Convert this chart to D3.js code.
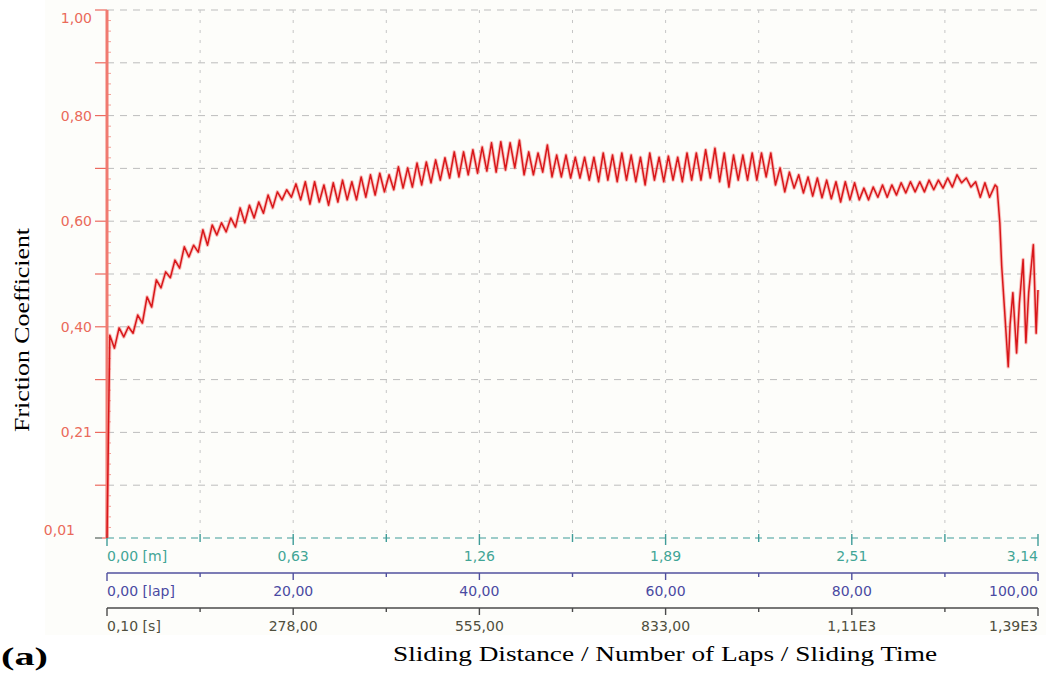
<!DOCTYPE html>
<html>
<head>
<meta charset="utf-8">
<script src="https://cdn.jsdelivr.net/npm/d3@7"></script>
<style>
  html, body { margin: 0; padding: 0; background: #ffffff; }
  svg { display: block; }
</style>
</head>
<body>
<svg id="chart" width="1050" height="680"></svg>
<script>
// Friction coefficient recorded during a pin-on-disc run (100 laps).
// Each lap shows one oscillation: a high and a low value per lap.
const startMu = 0.01;

const lapPeakMu = [
  0.390, 0.404, 0.406, 0.428, 0.462, 0.494, 0.509, 0.531, 0.556, 0.559,
  0.588, 0.597, 0.601, 0.610, 0.629, 0.634, 0.640, 0.653, 0.659, 0.663,
  0.674, 0.678, 0.678, 0.672, 0.676, 0.681, 0.678, 0.687, 0.691, 0.694,
  0.691, 0.706, 0.704, 0.713, 0.715, 0.719, 0.723, 0.734, 0.734, 0.738,
  0.743, 0.751, 0.753, 0.751, 0.756, 0.734, 0.732, 0.747, 0.728, 0.728,
  0.724, 0.724, 0.724, 0.732, 0.728, 0.732, 0.728, 0.724, 0.732, 0.724,
  0.726, 0.724, 0.732, 0.732, 0.738, 0.741, 0.732, 0.728, 0.728, 0.732,
  0.732, 0.732, 0.704, 0.696, 0.691, 0.687, 0.685, 0.681, 0.678, 0.678,
  0.676, 0.666, 0.668, 0.672, 0.672, 0.676, 0.678, 0.678, 0.681, 0.681,
  0.685, 0.691, 0.685, 0.678, 0.676
];

const lapValleyMu = [
  0.366, 0.387, 0.394, 0.413, 0.443, 0.479, 0.498, 0.516, 0.537, 0.546,
  0.559, 0.578, 0.584, 0.593, 0.601, 0.610, 0.619, 0.629, 0.644, 0.649,
  0.644, 0.636, 0.640, 0.634, 0.640, 0.644, 0.644, 0.649, 0.653, 0.659,
  0.663, 0.666, 0.668, 0.672, 0.676, 0.681, 0.685, 0.687, 0.691, 0.694,
  0.698, 0.696, 0.700, 0.704, 0.691, 0.691, 0.696, 0.687, 0.687, 0.685,
  0.685, 0.681, 0.678, 0.681, 0.678, 0.681, 0.678, 0.672, 0.681, 0.678,
  0.681, 0.678, 0.681, 0.681, 0.685, 0.678, 0.668, 0.681, 0.681, 0.681,
  0.687, 0.672, 0.659, 0.666, 0.657, 0.651, 0.648, 0.646, 0.640, 0.644,
  0.644, 0.644, 0.649, 0.649, 0.653, 0.657, 0.659, 0.659, 0.663, 0.666,
  0.668, 0.676, 0.668, 0.649, 0.649
];

// Final laps: coating breaks through, friction collapses and becomes erratic
const tailLap = [95.4, 95.6, 95.9, 96.1, 96.4, 96.8, 97.0, 97.3, 97.7, 98.0, 98.4, 98.7, 99.0, 99.5, 99.8, 100.0];
const tailMu  = [0.672, 0.668, 0.601, 0.520, 0.440, 0.331, 0.410, 0.470, 0.357, 0.450, 0.532, 0.376, 0.470, 0.560, 0.394, 0.475];

// Axis tick values and labels
const muTickValues = [0.01, 0.208, 0.406, 0.604, 0.802, 1.00];
const muTickLabels = ["0,01", "0,21", "0,40", "0,60", "0,80", "1,00"];
const lapTickValues = [0, 20, 40, 60, 80, 100];
const distanceLabels = ["0,00 [m]", "0,63", "1,26", "1,89", "2,51", "3,14"];
const lapLabels = ["0,00 [lap]", "20,00", "40,00", "60,00", "80,00", "100,00"];
const timeLabels = ["0,10 [s]", "278,00", "555,00", "833,00", "1,11E3", "1,39E3"];

const svg = d3.select("#chart");
const font = "'DejaVu Sans', Verdana, sans-serif";
const serif = "'Liberation Serif', 'Times New Roman', serif";

const x = d3.scaleLinear().domain([0, 100]).range([107, 1038]);
const y = d3.scaleLinear().domain([0.01, 1.00]).range([538, 10]);

// panel background
svg.append("rect").attr("x", 45).attr("y", 0).attr("width", 1001).attr("height", 635)
  .attr("fill", "#fdfdfa");

// grid: labelled ticks plus the halfway ticks between them
const muGrid = [];
muTickValues.forEach((v, i) => {
  muGrid.push(v);
  if (i < muTickValues.length - 1) muGrid.push((v + muTickValues[i + 1]) / 2);
});
const lapGrid = d3.range(10, 100, 10);

const grid = svg.append("g");
grid.selectAll("line.h").data(muGrid.filter(v => v > 0.01)).join("line")
  .attr("x1", 107).attr("x2", 1040)
  .attr("y1", d => y(d)).attr("y2", d => y(d))
  .attr("stroke", "#bdbdbd").attr("stroke-width", 1).attr("stroke-dasharray", "7,6");
grid.selectAll("line.v").data(lapGrid).join("line")
  .attr("x1", d => x(d)).attr("x2", d => x(d))
  .attr("y1", y(1.00)).attr("y2", y(0.01))
  .attr("stroke", "#c6c6c6").attr("stroke-width", 1).attr("stroke-dasharray", "3,7");

// ---- y axis (red) ----
const yAxis = svg.append("g");
const minorMu = [];
for (let i = 0; i < muGrid.length - 1; i++) {
  const a = muGrid[i], b = muGrid[i + 1];
  for (let k = 1; k < 5; k++) minorMu.push(a + (b - a) * k / 5);
}
yAxis.selectAll("line.minor").data(minorMu).join("line")
  .attr("x1", 107).attr("x2", 111)
  .attr("y1", d => y(d)).attr("y2", d => y(d))
  .attr("stroke", "#f3a098").attr("stroke-width", 1);
yAxis.selectAll("line.major").data(muGrid).join("line")
  .attr("x1", 95).attr("x2", 107)
  .attr("y1", d => y(d)).attr("y2", d => y(d))
  .attr("stroke", "#ec6a60").attr("stroke-width", 1.2);
yAxis.append("line")
  .attr("x1", 107).attr("x2", 107).attr("y1", y(1.00)).attr("y2", y(0.01))
  .attr("stroke", "#f07a70").attr("stroke-width", 3);
yAxis.selectAll("text").data(muTickValues).join("text")
  .attr("x", (d, i) => i === 0 ? 75 : 92)
  .attr("y", (d, i) => y(d) + (i === 0 ? -8 : i === muTickValues.length - 1 ? 8 : 0))
  .attr("dy", "0.36em")
  .attr("text-anchor", "end")
  .attr("font-family", font).attr("font-size", 14)
  .attr("fill", "#ea6a5a")
  .text((d, i) => muTickLabels[i]);

// ---- stacked bottom axes: distance, laps, time ----
function bottomAxis(lineY, color, labels, labelColor, dashed) {
  const g = svg.append("g");
  g.append("line").attr("x1", dashed ? 95 : 107).attr("x2", 1038)
    .attr("y1", lineY).attr("y2", lineY)
    .attr("stroke", color).attr("stroke-width", dashed ? 1.2 : 1.6)
    .attr("stroke-dasharray", dashed ? "7,5" : null);
  const ticks = d3.range(0, 101, 10);
  g.selectAll("line.t").data(ticks).join("line")
    .attr("x1", d => x(d)).attr("x2", d => x(d))
    .attr("y1", d => dashed ? lineY - 4 : lineY)
    .attr("y2", d => lineY + (d === 0 || d === 100 ? 8 : d % 20 === 0 ? 7 : 4))
    .attr("stroke", color).attr("stroke-width", 1.4);
  g.selectAll("text").data(lapTickValues).join("text")
    .attr("x", d => x(d))
    .attr("y", lineY + 18)
    .attr("dy", "0.36em")
    .attr("text-anchor", (d, i) => i === 0 ? "start" : i === labels.length - 1 ? "end" : "middle")
    .attr("font-family", font).attr("font-size", 14)
    .attr("fill", labelColor)
    .text((d, i) => labels[i]);
}
bottomAxis(y(0.01), "#3f9c98", distanceLabels, "#42a596", true);
bottomAxis(573, "#50509e", lapLabels, "#4a4aa2", false);
bottomAxis(608, "#4a4a4a", timeLabels, "#4f4f3e", false);

// ---- friction trace ----
const points = [[0, startMu]];
lapPeakMu.forEach((p, i) => {
  points.push([i + 0.3, p]);
  points.push([i + 0.8, lapValleyMu[i]]);
});
tailLap.forEach((l, i) => points.push([l, tailMu[i]]));

const line = d3.line().x(d => x(d[0])).y(d => y(d[1]));
// soft halo under the trace
svg.append("path")
  .attr("d", line(points))
  .attr("fill", "none")
  .attr("stroke", "#f58a86")
  .attr("stroke-opacity", 0.55)
  .attr("stroke-width", 3.5)
  .attr("stroke-linejoin", "round");
svg.append("path")
  .attr("d", line(points))
  .attr("fill", "none")
  .attr("stroke", "#d8171a")
  .attr("stroke-width", 1.5)
  .attr("stroke-linejoin", "round");

// ---- titles ----
svg.append("text")
  .attr("transform", "translate(29,330) rotate(-90)")
  .attr("text-anchor", "middle")
  .attr("font-family", serif)
  .attr("font-size", 22).attr("fill", "#000")
  .attr("textLength", 204).attr("lengthAdjust", "spacingAndGlyphs")
  .text("Friction Coefficient");

svg.append("text")
  .attr("x", 665).attr("y", 661)
  .attr("text-anchor", "middle")
  .attr("font-family", serif)
  .attr("font-size", 22).attr("fill", "#000")
  .attr("textLength", 544).attr("lengthAdjust", "spacingAndGlyphs")
  .text("Sliding Distance / Number of Laps / Sliding Time");

svg.append("text")
  .attr("x", 1).attr("y", 665)
  .attr("font-family", serif)
  .attr("font-size", 26).attr("font-weight", "bold").attr("fill", "#000")
  .attr("textLength", 47).attr("lengthAdjust", "spacingAndGlyphs")
  .text("(a)");
</script>
</body>
</html>
